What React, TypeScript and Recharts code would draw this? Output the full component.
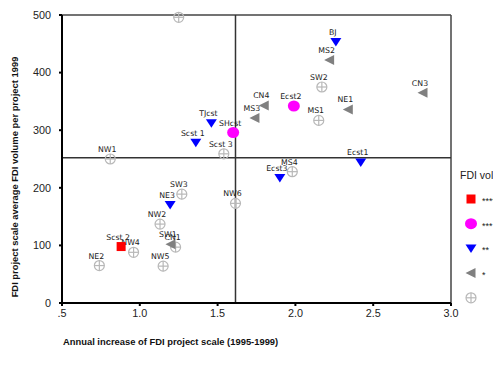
import React from 'react';
import { ScatterChart, Scatter, XAxis, YAxis, ReferenceLine } from 'recharts';

// Category "****" (red square)
const redPoints = [{ name: 'Scst 2', x: 0.88, y: 98 }];
// Category "***" (magenta circle)
const magentaPoints = [
  { name: 'SHcst', x: 1.6, y: 296 },
  { name: 'Ecst2', x: 1.99, y: 342 },
];
// Category "**" (blue down-triangle)
const bluePoints = [
  { name: 'BJ', x: 2.26, y: 453 },
  { name: 'TJcst', x: 1.46, y: 312 },
  { name: 'Scst 1', x: 1.36, y: 278 },
  { name: 'Ecst1', x: 2.42, y: 244 },
  { name: 'Ecst3', x: 1.9, y: 217 },
  { name: 'NE3', x: 1.195, y: 170 },
];
// Category "*" (grey left-triangle)
const greyPoints = [
  { name: 'MS2', x: 2.22, y: 422 },
  { name: 'CN3', x: 2.82, y: 365 },
  { name: 'CN4', x: 1.8, y: 343 },
  { name: 'NE1', x: 2.34, y: 336 },
  { name: 'MS3', x: 1.74, y: 321 },
  { name: 'SW1', x: 1.2, y: 102 },
];
// No category (grey crosshair circle)
const crossPoints = [
  { name: '', x: 1.25, y: 496 },
  { name: 'SW2', x: 2.17, y: 375 },
  { name: 'MS1', x: 2.15, y: 317 },
  { name: 'NW1', x: 0.81, y: 250 },
  { name: 'Scst 3', x: 1.54, y: 259 },
  { name: 'MS4', x: 1.98, y: 228 },
  { name: 'SW3', x: 1.27, y: 189 },
  { name: 'NW6', x: 1.615, y: 173 },
  { name: 'NW2', x: 1.13, y: 137 },
  { name: 'CN1', x: 1.23, y: 97 },
  { name: 'NW4', x: 0.96, y: 88 },
  { name: 'NW5', x: 1.15, y: 64 },
  { name: 'NE2', x: 0.74, y: 65 },
];

const xTicks = [0.5, 1.0, 1.5, 2.0, 2.5, 3.0];
const yTicks = [0, 100, 200, 300, 400, 500];
const xSplit = 1.615;
const ySplit = 252;
const legendLabels = ['****', '***', '**', '*', ''];
const legendTitle = 'FDI volume';
const xTitle = 'Annual increase of FDI project scale (1995-1999)';
const yTitle = 'FDI project scale average FDI volume per project 1999';

const labelStyle = { fontFamily: 'DejaVu Sans', fontSize: 7.8, fill: '#222' };

const Label = ({ cx, cy, name }: any) =>
  name ? (
    <text x={cx - 3} y={cy - 7} textAnchor="middle" style={labelStyle}>
      {name}
    </text>
  ) : null;

const drawSquare = (cx: number, cy: number) => (
  <rect x={cx - 4.5} y={cy - 4.5} width={9} height={9} fill="#ff0000" />
);
const drawCircle = (cx: number, cy: number) => (
  <ellipse cx={cx} cy={cy} rx={6} ry={5.5} fill="#ff00ff" />
);
const drawDown = (cx: number, cy: number) => (
  <polygon points={`${cx - 5.5},${cy - 4} ${cx + 5.5},${cy - 4} ${cx},${cy + 4.5}`} fill="#0000ff" />
);
const drawLeft = (cx: number, cy: number) => (
  <polygon points={`${cx - 5.5},${cy} ${cx + 4.5},${cy - 5} ${cx + 4.5},${cy + 5}`} fill="#808080" />
);
const drawCross = (cx: number, cy: number) => (
  <g fill="none" stroke="#b8b8b8" strokeWidth={1.2}>
    <circle cx={cx} cy={cy} r={5} />
    <line x1={cx - 5} y1={cy} x2={cx + 5} y2={cy} />
    <line x1={cx} y1={cy - 5} x2={cx} y2={cy + 5} />
  </g>
);

const makeShape = (draw: (cx: number, cy: number) => React.ReactNode) => (props: any) => {
  const { cx, cy, payload } = props;
  if (cx == null || cy == null) return <g />;
  return (
    <g>
      {draw(cx, cy)}
      <Label cx={cx} cy={cy} name={payload?.name} />
    </g>
  );
};

const titleStyle = { fontFamily: 'Liberation Sans', fontSize: 9.4, fontWeight: 'bold', fill: '#111' };

const XTitle = () => (
  <text x={63} y={345} style={titleStyle}>
    {xTitle}
  </text>
);

const YTitle = () => (
  <text x={18} y={177} textAnchor="middle" transform="rotate(-90, 18, 177)" style={titleStyle}>
    {yTitle}
  </text>
);

const fmtX = (v: number) => (v === 0.5 ? '.5' : v.toFixed(1));

const tickStyle = { fontFamily: 'Liberation Sans', fontSize: 10.8, fill: '#222' };

const legendDraws = [drawSquare, drawCircle, drawDown, drawLeft, drawCross];

export default function App() {
  return (
    <div
      style={{
        position: 'absolute',
        left: 0,
        top: 0,
        width: 493,
        height: 367,
        overflow: 'hidden',
        background: '#fff',
      }}
    >
      <ScatterChart width={493} height={367} margin={{ top: 15, right: 42, bottom: 24, left: 22 }}>
        <XAxis
          type="number"
          dataKey="x"
          domain={[0.5, 3.0]}
          ticks={xTicks}
          tickFormatter={fmtX}
          height={40}
          axisLine={{ stroke: '#000', strokeWidth: 2 }}
          tickLine={{ stroke: '#000', strokeWidth: 2 }}
          tickSize={3}
          tickMargin={3}
          tick={tickStyle}
          label={<XTitle />}
        />
        <YAxis
          type="number"
          dataKey="y"
          domain={[0, 500]}
          ticks={yTicks}
          width={40}
          axisLine={{ stroke: '#000', strokeWidth: 2 }}
          tickLine={{ stroke: '#000', strokeWidth: 2 }}
          tickSize={3}
          tickMargin={8}
          tick={tickStyle}
          label={<YTitle />}
        />
        <ReferenceLine y={500} stroke="#444" strokeWidth={1.5} />
        <ReferenceLine x={3.0} stroke="#444" strokeWidth={1.5} />
        <ReferenceLine x={xSplit} stroke="#333" strokeWidth={1.5} />
        <ReferenceLine y={ySplit} stroke="#333" strokeWidth={1.5} />
        <Scatter data={crossPoints} isAnimationActive={false} shape={makeShape(drawCross)} />
        <Scatter data={greyPoints} isAnimationActive={false} shape={makeShape(drawLeft)} />
        <Scatter data={bluePoints} isAnimationActive={false} shape={makeShape(drawDown)} />
        <Scatter data={magentaPoints} isAnimationActive={false} shape={makeShape(drawCircle)} />
        <Scatter data={redPoints} isAnimationActive={false} shape={makeShape(drawSquare)} />
      </ScatterChart>
      <svg width={60} height={150} style={{ position: 'absolute', left: 455, top: 160 }}>
        <text x={5} y={18.5} style={{ fontFamily: 'Liberation Sans', fontSize: 10.5, fill: '#222' }}>
          {legendTitle}
        </text>
        {legendLabels.map((lab, i) => {
          const cy = 39 + i * 24.7;
          return (
            <g key={i}>
              {legendDraws[i](16, cy)}
              <text x={27} y={cy + 5} style={{ fontFamily: 'Liberation Sans', fontSize: 9, fill: '#222' }}>
                {lab}
              </text>
            </g>
          );
        })}
      </svg>
    </div>
  );
}
